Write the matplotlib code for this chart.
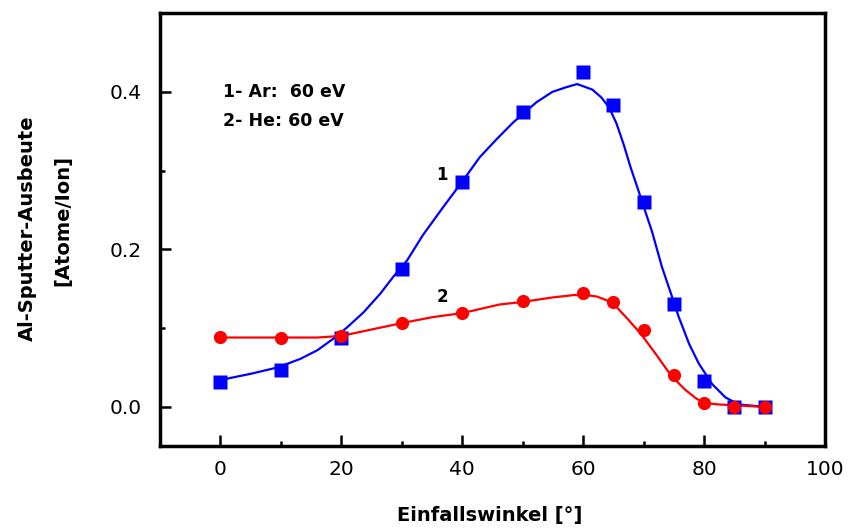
import matplotlib
matplotlib.use("Agg")
import matplotlib.pyplot as plt
from matplotlib.ticker import MultipleLocator

# --- Messpunkte ---
winkel = [0, 10, 20, 30, 40, 50, 60, 65, 70, 75, 80, 85, 90]
ar_ausbeute = [0.032, 0.047, 0.087, 0.175, 0.286, 0.374, 0.425, 0.383,
               0.260, 0.131, 0.033, 0.0, 0.0]
he_ausbeute = [0.089, 0.087, 0.090, 0.107, 0.119, 0.134, 0.144, 0.133,
               0.097, 0.040, 0.005, 0.0, 0.0]

# --- Fitkurven ---
ar_fit_x = [0, 1.3, 5.1, 9.5, 13.3, 16.1, 18.8, 21.0, 23.7, 26.5, 28.6, 30.9,
            33.5, 36.8, 40.0, 42.9, 45.7, 48.4, 52.3, 54.9, 57.2, 59.0, 61.5,
            63.0, 64.3, 65.5, 66.7, 67.8, 68.9, 70.4, 71.4, 72.2, 73.0, 74.5,
            75.8, 77.5, 79.1, 81.3, 83.5, 85.7, 90.0]
ar_fit_y = [0.032, 0.036, 0.042, 0.050, 0.061, 0.072, 0.087, 0.101, 0.120,
            0.144, 0.165, 0.186, 0.218, 0.253, 0.286, 0.317, 0.340, 0.361,
            0.387, 0.400, 0.406, 0.410, 0.403, 0.393, 0.380, 0.360, 0.333,
            0.305, 0.280, 0.245, 0.222, 0.200, 0.178, 0.144, 0.114, 0.080,
            0.055, 0.029, 0.012, 0.003, 0.0]
he_fit_x = [0, 16, 20, 24.3, 29.8, 35.2, 40, 46.2, 49.8, 55, 58.5, 60.5, 62.3,
            64.0, 65.6, 67.3, 69.6, 72, 74.5, 76.8, 78.6, 79.8, 82.4, 89.5]
he_fit_y = [0.088, 0.088, 0.090, 0.097, 0.106, 0.114, 0.119, 0.130, 0.133,
            0.139, 0.142, 0.142, 0.140, 0.135, 0.126, 0.112, 0.092, 0.067,
            0.040, 0.022, 0.011, 0.005, 0.003, 0.0]

fig = plt.figure(figsize=(8.49, 5.28), dpi=100)
ax = fig.add_axes([0.188, 0.155, 0.784, 0.820])

ax.plot(ar_fit_x, ar_fit_y, '-', color='#0000ff', lw=1.6)
ax.plot(he_fit_x, he_fit_y, '-', color='#ff0000', lw=1.6)
ax.plot(winkel, ar_ausbeute, 's', color='#0000ff', ms=10, mec='none')
ax.plot(winkel, he_ausbeute, 'o', color='#ff0000', ms=9.5, mec='none')

ax.set_xlim(-10, 100)
ax.set_ylim(-0.05, 0.5)
ax.xaxis.set_minor_locator(MultipleLocator(10))
ax.yaxis.set_minor_locator(MultipleLocator(0.1))
ax.set_xticks([0, 20, 40, 60, 80, 100])
ax.set_xticklabels(['0', '20', '40', '60', '80', '100'])
ax.set_yticks([0.0, 0.2, 0.4])
ax.set_yticklabels(['0.0', '0.2', '0.4'])

for s in ax.spines.values():
    s.set_linewidth(2.5)
ax.tick_params(which='both', direction='in', top=False, right=False, width=1.8)
ax.tick_params(which='major', length=8)
ax.tick_params(which='minor', length=3.5)
ax.tick_params(axis='y', which='major', pad=13, labelsize=14.5)
ax.tick_params(axis='x', which='major', pad=10, labelsize=14.5)

# Achsenbeschriftung
fig.text(490 / 849, 1 - 516 / 528, 'Einfallswinkel [°]', ha='center', va='center',
         fontsize=14, fontweight='bold')
fig.text(27 / 849, 1 - 228 / 528, 'Al-Sputter-Ausbeute', ha='center', va='center',
         rotation=90, fontsize=14, fontweight='bold')
fig.text(63 / 849, 1 - 220 / 528, '[Atome/Ion]', ha='center', va='center',
         rotation=90, fontsize=14, fontweight='bold')

# Legende als Text
ax.text(0.5, 0.40, '1- Ar:  60 eV', ha='left', va='center', fontsize=12.5,
        fontweight='bold')
ax.text(0.5, 0.363, '2- He: 60 eV', ha='left', va='center', fontsize=12.5,
        fontweight='bold')
ax.text(36.7, 0.295, '1', ha='center', va='center', fontsize=12, fontweight='bold')
ax.text(36.8, 0.139, '2', ha='center', va='center', fontsize=12, fontweight='bold')

fig.savefig('out.png', dpi=100)
